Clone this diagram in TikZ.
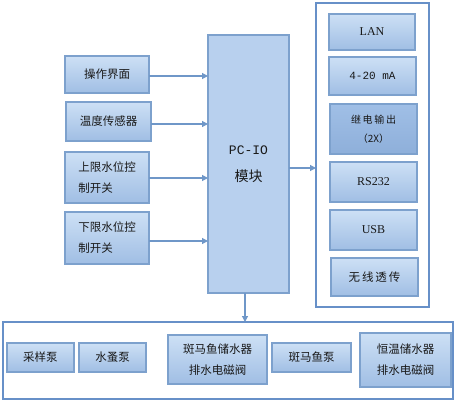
\documentclass[tikz,border=0pt]{standalone}
\usepackage{fontspec}
\setmainfont{Liberation Serif}
\newfontfamily\cjk{Noto Sans CJK SC}
\newfontfamily\monof{Liberation Mono}
\usetikzlibrary{arrows.meta}
\definecolor{bordc}{HTML}{7DA1CD}
\definecolor{frame}{HTML}{6790C8}
\definecolor{topc}{HTML}{CDE0F5}
\definecolor{botc}{HTML}{A0BEE4}
\definecolor{pcfill}{HTML}{B8D0EE}
\definecolor{relaytop}{HTML}{A0BFE6}
\definecolor{relaybot}{HTML}{8EAFDA}
\definecolor{arrc}{HTML}{6F97C8}
\tikzset{
  blk/.style={draw=bordc, line width=1.5pt, top color=topc, bottom color=botc, inner sep=0pt, outer sep=0pt, font=\cjk\fontsize{11.5}{21}\selectfont, align=center, text=black!90},
  frm/.style={draw=frame, line width=1.3pt, fill=white, inner sep=0pt, outer sep=0pt},
  conn/.style={draw=arrc, line width=1.2pt, -{Triangle[width=6pt,length=6pt]}}
}
\begin{document}
\begin{tikzpicture}[x=1pt,y=-1pt]
\useasboundingbox (0,0) rectangle (461,401);
% frames
\node[frm, minimum width=113pt, minimum height=304pt] (outR) at (372.5,155) {};
\node[frm, minimum width=450pt, minimum height=77pt] (outB) at (228,360.5) {};
% left inputs
\node[blk, minimum width=84pt, minimum height=37pt] (op) at (107,74.5) {操作界面};
\node[blk, minimum width=85pt, minimum height=39pt] (temp) at (108.5,121.5) {温度传感器};
\node[blk, minimum width=84pt, minimum height=51pt, align=left] (up) at (107,177.5) {上限水位控\\制开关};
\node[blk, minimum width=84pt, minimum height=52pt, align=left] (down) at (107,238) {下限水位控\\制开关};
% PC-IO
\node[draw=bordc, line width=1.5pt, fill=pcfill, inner sep=0pt, outer sep=0pt, minimum width=81pt, minimum height=258pt, align=center, text=black!90] (pc) at (248.5,164) {{\monof\fontsize{13}{15}\selectfont PC-IO}\\[15pt]{\cjk\fontsize{14}{16}\selectfont 模块}};
% right outputs
\node[blk, minimum width=86pt, minimum height=36pt, font=\fontsize{12}{14}\selectfont] (lan) at (372,32) {LAN};
\node[blk, minimum width=87pt, minimum height=38pt, font=\monof\fontsize{11}{13}\selectfont] (ma) at (372.5,76) {4-20 mA};
\node[blk, minimum width=87pt, minimum height=50pt, top color=relaytop, bottom color=relaybot, font=\cjk\fontsize{10}{19}\selectfont] (relay) at (373.5,129) {继\,电\,输\,出\\（2X）};
\node[blk, minimum width=87pt, minimum height=40pt, font=\fontsize{12}{14}\selectfont] (rs) at (373.5,182) {RS232};
\node[blk, minimum width=87pt, minimum height=40pt, font=\fontsize{12}{14}\selectfont] (usb) at (373.5,230) {USB};
\node[blk, minimum width=87pt, minimum height=38pt] (wx) at (374.5,277) {无\,线\,透\,传};
% bottom outputs
\node[blk, minimum width=67pt, minimum height=29pt] (cy) at (40.5,357.5) {采样泵};
\node[blk, minimum width=67pt, minimum height=29pt] (sz) at (112.5,357.5) {水蚤泵};
\node[blk, minimum width=99pt, minimum height=49pt] (bm) at (217.5,359.5) {斑马鱼储水器\\排水电磁阀};
\node[blk, minimum width=79pt, minimum height=29pt] (bmb) at (311.5,357.5) {斑马鱼泵};
\node[blk, minimum width=91pt, minimum height=54pt] (hw) at (405.5,360) {恒温储水器\\排水电磁阀};
% connectors
\draw[conn] ([yshift=-1.5pt]op.east) -- ([yshift=-1.5pt]op.east -| pc.west);
\draw[conn] ([yshift=-2.5pt]temp.east) -- ([yshift=-2.5pt]temp.east -| pc.west);
\draw[conn] ([yshift=-0.5pt]up.east) -- ([yshift=-0.5pt]up.east -| pc.west);
\draw[conn] ([yshift=-3pt]down.east) -- ([yshift=-3pt]down.east -| pc.west);
\draw[conn] ([yshift=-4pt]pc.east) -- ([yshift=-4pt]pc.east -| outR.west);
\draw[conn] ([xshift=-3.5pt]pc.south) -- ([xshift=-3.5pt]pc.south |- outB.north);
\end{tikzpicture}
\end{document}
